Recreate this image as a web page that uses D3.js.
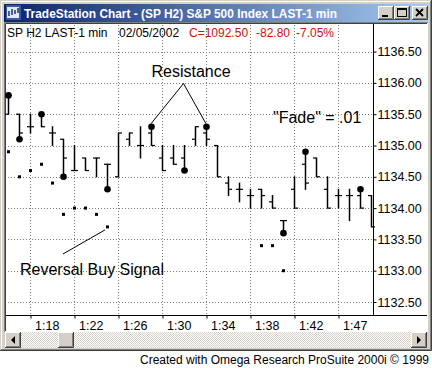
<!DOCTYPE html>
<html>
<head>
<meta charset="utf-8">
<script src="https://d3js.org/d3.v7.min.js"></script>
<style>
  body { margin: 0; background: #fff; }
  svg { display: block; font-family: "Liberation Sans", Arial, sans-serif; }
</style>
</head>
<body>
<div id="chart"></div>
<script>
// one bar per minute
var times = ["1:16","1:17","1:18","1:19","1:20","1:21","1:22","1:23","1:24","1:25",
             "1:26","1:27","1:28","1:29","1:30","1:31","1:32","1:33","1:34","1:35",
             "1:36","1:37","1:38","1:39","1:40","1:41","1:42","1:43","1:44","1:45",
             "1:47","1:48","1:49","1:50"];
var opens  = [1135.5,1135.5,1135.3,1135.5,1135.2,1135.1,1134.6,1134.8,1134.8,1134.7,
              1134.5,1135.1,1135.0,1135.2,1134.8,1134.8,1134.8,1135.1,1135.2,1135.0,
              1134.4,1134.3,1134.2,1134.3,1134.1,1133.8,1134.3,1134.7,1134.8,1134.3,
              1134.2,1134.2,1134.2,1134.2];
var highs  = [1135.8,1135.5,1135.5,1135.5,1135.3,1135.1,1135.0,1134.8,1134.8,1134.7,
              1135.2,1135.2,1135.3,1135.3,1135.0,1135.0,1135.0,1135.3,1135.3,1135.0,
              1134.5,1134.4,1134.3,1134.3,1134.2,1133.8,1134.5,1134.9,1134.8,1134.5,
              1134.3,1134.3,1134.3,1134.2];
var lows   = [1135.5,1135.1,1135.2,1135.3,1135.0,1134.5,1134.6,1134.6,1134.5,1134.3,
              1134.5,1135.0,1134.8,1135.0,1134.6,1134.7,1134.6,1135.0,1135.0,1134.5,
              1134.2,1134.1,1134.0,1134.0,1134.0,1133.6,1134.0,1134.3,1134.5,1134.0,
              1134.0,1133.8,1134.0,1133.7];
var closes = [1135.8,1135.2,1135.3,1135.3,1135.2,1134.8,1134.6,1134.6,1134.8,1134.7,
              1135.2,1135.2,1135.0,1135.0,1134.6,1134.7,1134.6,1135.3,1135.1,1134.5,
              1134.3,1134.3,1134.2,1134.2,1134.0,1133.8,1134.0,1134.4,1134.5,1134.0,
              1134.2,1134.2,1134.0,1133.7];

// big dots (swing points) and small squares ("Fade" stops)
var dotBars   = [0,1,3,5,9,13,16,18,25,27,32];
var dotPrices = [1135.8,1135.1,1135.5,1134.5,1134.3,1135.3,1134.6,1135.3,1133.6,1134.9,1134.3];
var sqBars    = [0,1,2,3,4,5,6,7,8,9,23,24,25];
var sqPrices  = [1134.9,1134.5,1134.6,1134.7,1134.4,1133.9,1134.0,1134.0,1133.9,1133.7,1133.4,1133.4,1133.0];

var priceTicks = [1132.5,1133.0,1133.5,1134.0,1134.5,1135.0,1135.5,1136.0,1136.5];
var timeTicks  = ["1:18","1:22","1:26","1:30","1:34","1:38","1:42","1:47"];

var W = 432, H = 368;
var plotL = 6, plotR = 373.5, plotT = 24, plotB = 315.5;

var svg = d3.select("#chart").append("svg")
    .attr("width", W).attr("height", H);

var defs = svg.append("defs");
var grad = defs.append("linearGradient").attr("id", "titleGrad");
grad.append("stop").attr("offset", "0%").attr("stop-color", "#0a246a");
grad.append("stop").attr("offset", "100%").attr("stop-color", "#a6caf0");
var pat = defs.append("pattern").attr("id", "dither")
    .attr("width", 2).attr("height", 2).attr("patternUnits", "userSpaceOnUse");
pat.append("rect").attr("width", 2).attr("height", 2).attr("fill", "#ffffff");
pat.append("rect").attr("width", 1).attr("height", 1).attr("fill", "#d4d0c8");
pat.append("rect").attr("x", 1).attr("y", 1).attr("width", 1).attr("height", 1).attr("fill", "#d4d0c8");

// window frame
svg.append("rect").attr("width", W).attr("height", 351).attr("fill", "#d4d0c8");
svg.append("path").attr("d", "M1.5,349 V1.5 H430").attr("stroke", "#ffffff").attr("fill", "none");
svg.append("path").attr("d", "M0,350.5 H431.5 V0").attr("stroke", "#404040").attr("fill", "none");
svg.append("path").attr("d", "M1,349.5 H430.5 V1").attr("stroke", "#808080").attr("fill", "none");

// title bar
svg.append("rect").attr("x", 4).attr("y", 4).attr("width", 424).attr("height", 18)
    .attr("fill", "url(#titleGrad)");
var icon = svg.append("g").attr("transform", "translate(6,5)");
icon.append("rect").attr("width", 15).attr("height", 15).attr("fill", "#3a5a9a");
icon.append("rect").attr("x", 1).attr("y", 2).attr("width", 12).attr("height", 11).attr("fill", "#dfe8f7");
icon.append("path").attr("d", "M3,11 V6 M6,10 V4 M9,9 V5 M12,8 V3")
    .attr("stroke", "#203070").attr("stroke-width", 1.5);
svg.append("text").attr("x", 24).attr("y", 17.5)
    .attr("fill", "#ffffff").attr("font-weight", "bold").attr("font-size", "12px")
    .attr("textLength", 313).attr("lengthAdjust", "spacingAndGlyphs")
    .text("TradeStation Chart - (SP H2) S&P 500 Index LAST-1 min");

function button(g, x, y, w, h) {
  g.append("rect").attr("x", x).attr("y", y).attr("width", w).attr("height", h).attr("fill", "#d4d0c8");
  g.append("path").attr("d", "M" + (x + 0.5) + "," + (y + h) + " V" + (y + 0.5) + " H" + (x + w))
      .attr("stroke", "#ffffff").attr("fill", "none");
  g.append("path").attr("d", "M" + x + "," + (y + h - 0.5) + " H" + (x + w - 0.5) + " V" + y)
      .attr("stroke", "#404040").attr("fill", "none");
  g.append("path").attr("d", "M" + (x + 1) + "," + (y + h - 1.5) + " H" + (x + w - 1.5) + " V" + (y + 1))
      .attr("stroke", "#808080").attr("fill", "none");
}
var btns = svg.append("g");
button(btns, 378, 6, 16, 14);
button(btns, 394, 6, 16, 14);
button(btns, 412, 6, 16, 14);
btns.append("rect").attr("x", 382).attr("y", 15).attr("width", 6).attr("height", 2).attr("fill", "#000");
btns.append("rect").attr("x", 397.5).attr("y", 8.5).attr("width", 9).attr("height", 8)
    .attr("fill", "none").attr("stroke", "#000");
btns.append("rect").attr("x", 397).attr("y", 8).attr("width", 10).attr("height", 2).attr("fill", "#000");
btns.append("path").attr("d", "M416,9 L423,16 M423,9 L416,16")
    .attr("stroke", "#000").attr("stroke-width", 1.8);

// chart area
svg.append("rect").attr("x", 5).attr("y", 23).attr("width", 423).attr("height", 309).attr("fill", "#ffffff");
svg.append("path").attr("d", "M4.5,332 V22.5 H428").attr("stroke", "#808080").attr("fill", "none");
svg.append("path").attr("d", "M5.5,331 V23.5 H427").attr("stroke", "#404040").attr("fill", "none");

var x = d3.scalePoint().domain(times).range([8, 371]);
var y = d3.scaleLinear().domain([1132.5, 1136.5]).range([302, 51.6]);

// gridlines
var grid = svg.append("g").attr("stroke", "#7a7a7a").attr("stroke-dasharray", "1,2");
grid.selectAll("line.h").data(priceTicks).enter().append("line")
    .attr("class", "h")
    .attr("x1", plotL + 2).attr("x2", plotR)
    .attr("y1", function(d) { return Math.round(y(d)) + 0.5; })
    .attr("y2", function(d) { return Math.round(y(d)) + 0.5; });
grid.selectAll("line.v").data(timeTicks).enter().append("line")
    .attr("class", "v")
    .attr("x1", function(d) { return x(d) + 0.5; }).attr("x2", function(d) { return x(d) + 0.5; })
    .attr("y1", plotT + 1).attr("y2", plotB);

// header line
var header = [
  {t: "SP H2 LAST-1 min", x: 7, c: "#000000"},
  {t: "02/05/2002", x: 119, c: "#000000"},
  {t: "C=1092.50", x: 189, c: "#cc1111"},
  {t: "-82.80", x: 256, c: "#cc1111"},
  {t: "-7.05%", x: 296, c: "#cc1111"}
];
svg.selectAll("text.hdr").data(header).enter().append("text")
    .attr("class", "hdr")
    .attr("x", function(d) { return d.x; }).attr("y", 36.5)
    .attr("font-size", "12px").attr("fill", function(d) { return d.c; })
    .text(function(d) { return d.t; });

// axes
var yAxis = d3.axisRight(y).tickValues(priceTicks).tickSize(3).tickPadding(1)
    .tickFormat(d3.format(".2f"));
var gy = svg.append("g").attr("transform", "translate(" + plotR + ",0)").call(yAxis);
gy.select(".domain").remove();
gy.selectAll("text").attr("font-size", "12.5px").attr("font-family", "Liberation Sans, Arial, sans-serif").attr("fill", "#000");
gy.selectAll("line").attr("stroke", "#000");

var xAxis = d3.axisBottom(x).tickValues(timeTicks).tickSize(3).tickPadding(3);
var gx = svg.append("g").attr("transform", "translate(0.5," + plotB + ")").call(xAxis);
gx.select(".domain").remove();
gx.selectAll("text").attr("font-size", "12.5px").attr("font-family", "Liberation Sans, Arial, sans-serif")
    .attr("fill", "#000").attr("text-anchor", "start").attr("dx", 4);
gx.selectAll("line").attr("stroke", "#000");

svg.append("line").attr("x1", plotR).attr("x2", plotR).attr("y1", plotT).attr("y2", plotB)
    .attr("stroke", "#000");
svg.append("line").attr("x1", plotL).attr("x2", 427).attr("y1", plotB).attr("y2", plotB)
    .attr("stroke", "#000");

// OHLC bars
var bars = svg.append("g").attr("stroke", "#000");
times.forEach(function(t, i) {
  var bx = x(t) + 0.5;
  bars.append("line").attr("x1", bx).attr("x2", bx)
      .attr("y1", y(highs[i]) - 0.5).attr("y2", y(lows[i]) + 0.5).attr("stroke-width", 1.5);
  bars.append("line").attr("x1", bx - 3.5).attr("x2", bx)
      .attr("y1", y(opens[i])).attr("y2", y(opens[i])).attr("stroke-width", 1.2);
  bars.append("line").attr("x1", bx).attr("x2", bx + 3.5)
      .attr("y1", y(closes[i])).attr("y2", y(closes[i])).attr("stroke-width", 1.2);
});

svg.selectAll("circle.dot").data(dotBars).enter().append("circle")
    .attr("class", "dot")
    .attr("cx", function(d) { return x(times[d]) + 0.5; })
    .attr("cy", function(d, i) { return y(dotPrices[i]); })
    .attr("r", 3.3).attr("fill", "#000");

svg.selectAll("rect.sq").data(sqBars).enter().append("rect")
    .attr("class", "sq")
    .attr("x", function(d) { return x(times[d]) - 1; })
    .attr("y", function(d, i) { return y(sqPrices[i]) - 1.5; })
    .attr("width", 3).attr("height", 3).attr("fill", "#000");

// annotations
svg.append("text").attr("x", 191).attr("y", 76.5).attr("text-anchor", "middle")
    .attr("font-size", "16px").text("Resistance");
svg.append("path")
    .attr("d", "M" + x(times[13]) + "," + (y(1135.3) - 3) + " L183.5,83.5 L" + x(times[18]) + "," + (y(1135.3) - 3))
    .attr("fill", "none").attr("stroke", "#000");
svg.append("text").attr("x", 273).attr("y", 123).attr("font-size", "16px").text("\"Fade\" = .01");
svg.append("text").attr("x", 20).attr("y", 275).attr("font-size", "16px").text("Reversal Buy Signal");
svg.append("line").attr("x1", 63).attr("y1", 254)
    .attr("x2", x(times[9]) - 2).attr("y2", y(sqPrices[9]) + 3)
    .attr("stroke", "#000");

// scrollbar
svg.append("rect").attr("x", 5).attr("y", 332).attr("width", 422).attr("height", 16).attr("fill", "url(#dither)");
var sb = svg.append("g");
button(sb, 5, 332, 16, 16);
button(sb, 58, 332, 16, 16);
button(sb, 411, 332, 16, 16);
sb.append("path").attr("d", "M11,340 L15,336 L15,344 Z").attr("fill", "#000");
sb.append("path").attr("d", "M421,340 L417,336 L417,344 Z").attr("fill", "#000");

// footer
svg.append("text").attr("x", 429).attr("y", 364).attr("text-anchor", "end")
    .attr("font-size", "12px").attr("fill", "#000")
    .text("Created with Omega Research ProSuite 2000i \u00a9 1999");
</script>
</body>
</html>
